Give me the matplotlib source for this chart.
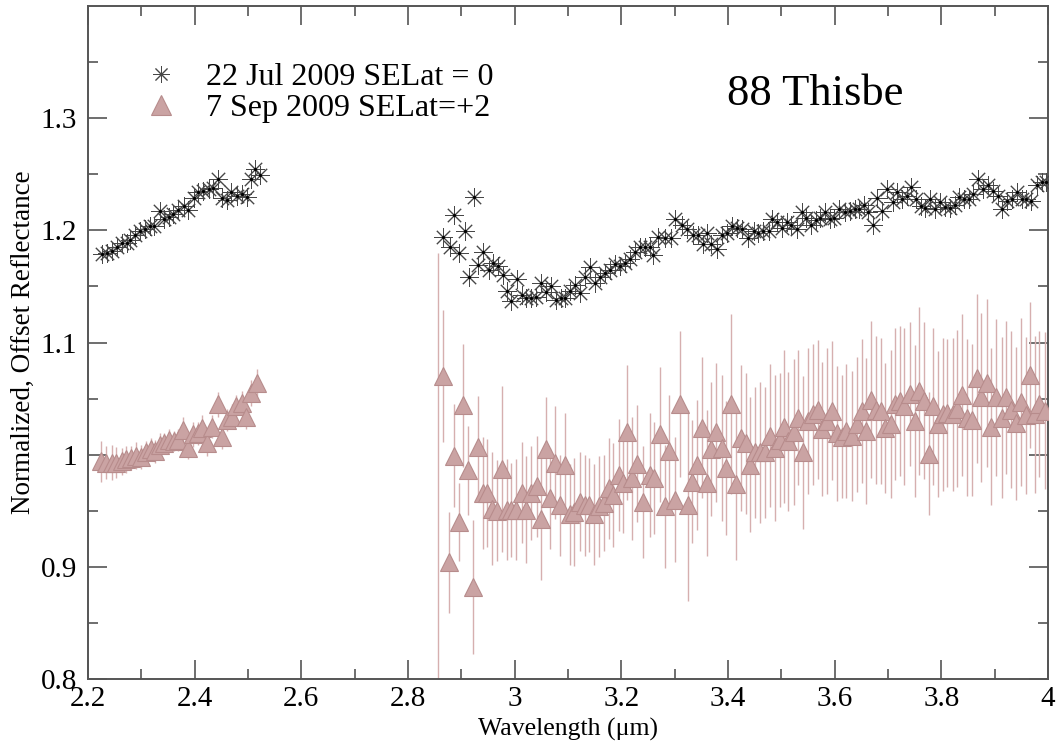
import numpy as np
import matplotlib
matplotlib.use("Agg")
import matplotlib.pyplot as plt

plt.rcParams['font.family'] = ['Liberation Serif', 'DejaVu Serif']

# Data --------------------------------------------------------------------------------------------

# 22 Jul 2009 (asterisks), short wavelength part
jul_x1 = [2.226, 2.235, 2.244, 2.254, 2.263, 2.273, 2.279, 2.288, 2.298, 2.307, 2.316, 2.324,
          2.334, 2.343, 2.351, 2.360, 2.369, 2.379, 2.388, 2.398, 2.407, 2.416, 2.426, 2.435,
          2.443, 2.452, 2.460, 2.469, 2.479, 2.488, 2.498, 2.505, 2.514, 2.523]
jul_y1 = [1.179, 1.180, 1.182, 1.185, 1.189, 1.189, 1.191, 1.196, 1.199, 1.201, 1.204, 1.204,
          1.217, 1.210, 1.212, 1.215, 1.218, 1.222, 1.218, 1.229, 1.234, 1.235, 1.237, 1.238,
          1.246, 1.229, 1.227, 1.234, 1.231, 1.232, 1.230, 1.246, 1.255, 1.249]

# 22 Jul 2009, long wavelength part
jul_x2 = [2.866, 2.878, 2.887, 2.896, 2.906, 2.915, 2.924, 2.932, 2.941, 2.951, 2.959, 2.968,
          2.978, 2.986, 2.994, 3.004, 3.013, 3.021, 3.031, 3.040, 3.049, 3.059, 3.068, 3.078,
          3.086, 3.094, 3.104, 3.113, 3.123, 3.132, 3.141, 3.151, 3.160, 3.169, 3.179, 3.188,
          3.198, 3.207, 3.216, 3.226, 3.235, 3.244, 3.254, 3.260, 3.269, 3.282, 3.293, 3.301,
          3.313, 3.323, 3.334, 3.343, 3.353, 3.361, 3.369, 3.379,
          3.388, 3.398, 3.407, 3.416, 3.426, 3.438, 3.448, 3.457, 3.466, 3.476, 3.482, 3.491,
          3.501, 3.510, 3.519, 3.529, 3.538, 3.546, 3.556, 3.565, 3.573, 3.582, 3.591, 3.599,
          3.609, 3.619, 3.629, 3.638, 3.646, 3.655, 3.663, 3.671, 3.679, 3.689, 3.699, 3.709,
          3.716, 3.726, 3.735, 3.743, 3.753, 3.761, 3.769, 3.779, 3.788, 3.798, 3.807, 3.816,
          3.826, 3.834, 3.843, 3.851, 3.859, 3.869, 3.879, 3.888, 3.896, 3.906, 3.913, 3.923,
          3.932, 3.941, 3.951, 3.959, 3.968, 3.979, 3.988, 3.996]
jul_y2 = [1.194, 1.185, 1.214, 1.180, 1.199, 1.158, 1.230, 1.169, 1.181, 1.165, 1.171, 1.168,
          1.160, 1.146, 1.137, 1.157, 1.142, 1.140, 1.140, 1.141, 1.153, 1.145, 1.150, 1.138,
          1.140, 1.140, 1.146, 1.151, 1.144, 1.158, 1.167, 1.153, 1.158, 1.162, 1.165, 1.170,
          1.168, 1.171, 1.174, 1.181, 1.185, 1.185, 1.185, 1.178, 1.194, 1.193, 1.193, 1.210,
          1.205, 1.201, 1.196, 1.196, 1.188, 1.198, 1.188, 1.183,
          1.196, 1.198, 1.204, 1.202, 1.201, 1.193, 1.199, 1.198, 1.199, 1.199, 1.210, 1.207,
          1.202, 1.207, 1.205, 1.201, 1.216, 1.211, 1.205, 1.209, 1.211, 1.216, 1.210, 1.211,
          1.219, 1.216, 1.217, 1.219, 1.219, 1.223, 1.216, 1.205, 1.229, 1.217, 1.237, 1.225,
          1.234, 1.228, 1.231, 1.239, 1.228, 1.222, 1.220, 1.228, 1.219, 1.225, 1.221, 1.220,
          1.223, 1.230, 1.228, 1.228, 1.232, 1.246, 1.237, 1.240, 1.235, 1.231, 1.219, 1.226,
          1.228, 1.234, 1.228, 1.228, 1.226, 1.240, 1.243, 1.243]

# 7 Sep 2009 (triangles with error bars), short wavelength part
sep_x1 = [2.225, 2.234, 2.244, 2.253, 2.263, 2.272, 2.280, 2.289, 2.299, 2.308, 2.318, 2.325,
          2.334, 2.343, 2.352, 2.361, 2.369, 2.378, 2.388, 2.397, 2.406, 2.414, 2.424, 2.433,
          2.443, 2.451, 2.461, 2.470, 2.478, 2.488, 2.497, 2.506, 2.516]
sep_y1 = [0.994, 0.993, 0.993, 0.993, 0.994, 0.996, 0.997, 0.999, 0.998, 1.002, 1.005, 1.003,
          1.009, 1.010, 1.013, 1.012, 1.013, 1.022, 1.006, 1.018, 1.019, 1.024, 1.010, 1.025,
          1.045, 1.016, 1.031, 1.034, 1.043, 1.046, 1.034, 1.055, 1.064]
sep_e1 = [0.018, 0.015, 0.016, 0.014, 0.012, 0.012, 0.011, 0.012, 0.011, 0.010, 0.010, 0.010,
          0.010, 0.009, 0.010, 0.009, 0.010, 0.012, 0.010, 0.011, 0.010, 0.011, 0.011, 0.010,
          0.011, 0.011, 0.010, 0.011, 0.010, 0.011, 0.011, 0.012, 0.012]

# 7 Sep 2009, long wavelength part
sep_x2 = [2.857, 2.866, 2.877, 2.886, 2.895, 2.904, 2.913, 2.922, 2.931, 2.940, 2.949, 2.958,
          2.967, 2.976, 2.985, 2.994, 3.003, 3.013, 3.022, 3.031, 3.041, 3.049, 3.058, 3.067,
          3.075, 3.085, 3.094, 3.103, 3.112, 3.122, 3.131, 3.140, 3.149, 3.158, 3.168, 3.177,
          3.185, 3.195, 3.203, 3.210, 3.220, 3.230, 3.240, 3.254, 3.262, 3.272, 3.281, 3.290,
          3.300, 3.310, 3.325, 3.333, 3.342, 3.352, 3.360, 3.369, 3.378, 3.388, 3.397, 3.406,
          3.415, 3.424, 3.433, 3.442, 3.450, 3.460, 3.469, 3.478, 3.488, 3.497, 3.505, 3.513,
          3.523, 3.532, 3.541, 3.550, 3.560, 3.569, 3.577, 3.586, 3.595, 3.605, 3.614, 3.622,
          3.632, 3.641, 3.651, 3.659, 3.668, 3.678, 3.687, 3.695, 3.705, 3.713, 3.722, 3.730,
          3.741, 3.750, 3.759, 3.768, 3.776, 3.785, 3.794, 3.804, 3.811, 3.821, 3.830, 3.839,
          3.848, 3.857, 3.866, 3.875, 3.885, 3.894, 3.903, 3.913, 3.922, 3.931, 3.940, 3.949,
          3.958, 3.967, 3.975, 3.984, 3.994]
sep_y2 = [0.780, 1.070, 0.904, 0.999, 0.940, 1.044, 0.986, 0.882, 1.007, 0.966, 0.966, 0.952,
          0.950, 0.987, 0.951, 0.951, 0.951, 0.966, 0.951, 0.966, 0.972, 0.943, 1.005, 0.961,
          0.993, 0.955, 0.991, 0.947, 0.949, 0.958, 0.955, 0.955, 0.947, 0.954, 0.957, 0.970,
          0.964, 0.982, 0.975, 1.020, 0.979, 0.992, 0.958, 0.982, 0.979, 1.018, 0.954, 1.003,
          0.960, 1.045, 0.955, 0.976, 0.991, 1.024, 0.975, 1.005, 1.020, 1.006, 0.988, 1.045,
          0.974, 1.015, 1.010, 0.991, 1.002, 1.002, 1.002, 1.017, 1.006, 1.013, 1.025, 1.012,
          1.020, 1.033, 1.002, 1.030, 1.036, 1.040, 1.023, 1.030, 1.039, 1.019, 1.016, 1.021,
          1.017, 1.027, 1.039, 1.021, 1.049, 1.040, 1.039, 1.024, 1.027, 1.045, 1.048, 1.043,
          1.054, 1.030, 1.057, 1.048, 1.001, 1.043, 1.027, 1.036, 1.037, 1.036, 1.041, 1.053,
          1.033, 1.031, 1.068, 1.051, 1.064, 1.025, 1.051, 1.033, 1.051, 1.040, 1.028, 1.047,
          1.035, 1.071, 1.036, 1.045, 1.039]
sep_e2 = [0.400, 0.059, 0.045, 0.046, 0.035, 0.055, 0.040, 0.060, 0.045, 0.050, 0.048, 0.050,
          0.045, 0.074, 0.045, 0.042, 0.045, 0.045, 0.048, 0.042, 0.045, 0.055, 0.046, 0.045,
          0.050, 0.045, 0.046, 0.045, 0.048, 0.044, 0.045, 0.042, 0.045, 0.045, 0.043, 0.045,
          0.046, 0.050, 0.045, 0.060, 0.055, 0.052, 0.050, 0.055, 0.050, 0.060, 0.055, 0.050,
          0.056, 0.065, 0.085, 0.055, 0.058, 0.063, 0.065, 0.060, 0.062, 0.065, 0.060, 0.080,
          0.068, 0.065, 0.063, 0.060, 0.058, 0.063, 0.058, 0.064, 0.065, 0.060, 0.068, 0.062,
          0.065, 0.060, 0.068, 0.065, 0.063, 0.062, 0.060, 0.065, 0.062, 0.060, 0.055, 0.060,
          0.058, 0.060, 0.064, 0.065, 0.070, 0.066, 0.065, 0.058, 0.066, 0.068, 0.067, 0.070,
          0.064, 0.068, 0.075, 0.070, 0.055, 0.070, 0.065, 0.068, 0.066, 0.068, 0.070, 0.072,
          0.070, 0.068, 0.075, 0.075, 0.075, 0.070, 0.070, 0.072, 0.068, 0.070, 0.068, 0.075,
          0.070, 0.065, 0.070, 0.065, 0.070]

x_ticks = [2.2, 2.4, 2.6, 2.8, 3.0, 3.2, 3.4, 3.6, 3.8, 4.0]
y_ticks = [0.8, 0.9, 1.0, 1.1, 1.2, 1.3]

# Style ------------------------------------------------------------------------------------------
tri_face = '#caa3a3'
tri_edge = '#b78c8c'
bar_color = '#d6afaf'
star_color = '#474747'
frame_color = '#555555'
star_marker = (8, 2, 0)

fig = plt.figure(figsize=(10.62, 7.48), dpi=100)
ax = fig.add_axes([0.0829, 0.0922, 0.9039, 0.8998])

# Error bars + triangles
for xs, ys, es in [(sep_x1, sep_y1, sep_e1), (sep_x2, sep_y2, sep_e2)]:
    ax.errorbar(xs, ys, yerr=es, fmt='none', ecolor=bar_color, elinewidth=1.0, capsize=0, zorder=2)
    ax.plot(xs, ys, linestyle='none', marker='^', ms=13.5, mfc=tri_face, mec=tri_edge, mew=0.8, zorder=3)

# Asterisks
for xs, ys in [(jul_x1, jul_y1), (jul_x2, jul_y2)]:
    ax.plot(xs, ys, linestyle='none', marker=star_marker, ms=13.5, mec=star_color, mew=0.7, zorder=4)
    ax.plot(xs, ys, linestyle='none', marker='.', ms=2.5, color='black', zorder=5)

# Legend
h1, = ax.plot([], [], linestyle='none', marker=star_marker, ms=12, mec=star_color, mew=0.7)
h2, = ax.plot([], [], linestyle='none', marker='^', ms=14, mfc=tri_face, mec=tri_edge, mew=0.8)
leg = ax.legend([h1, h2], ['22 Jul 2009 SELat = 0', '7 Sep 2009 SELat=+2'],
                loc='upper left', bbox_to_anchor=(0.046, 0.935), frameon=False,
                fontsize=23, handlelength=1.0, handletextpad=0.9, labelspacing=0.05,
                borderaxespad=0.0)

ax.text(0.758, 0.869, '88 Thisbe', transform=ax.transAxes, fontsize=32,
        ha='center', va='center')

ax.set_xlim(2.2, 4.0)
ax.set_ylim(0.8, 1.4)
ax.set_xticks(x_ticks)
ax.set_xticklabels(['%g' % v for v in x_ticks])
ax.set_yticks(y_ticks)
ax.set_yticklabels(['%g' % v for v in y_ticks])
ax.set_xticks(np.arange(2.3, 4.0, 0.2), minor=True)
ax.set_yticks([0.85, 0.95, 1.05, 1.15, 1.25, 1.35], minor=True)

ax.tick_params(which='both', direction='in', top=True, right=True, color=frame_color,
               labelsize=21, width=1.2)
ax.tick_params(which='major', length=14)
ax.tick_params(which='minor', length=7)
ax.tick_params(axis='x', which='major', pad=5)
ax.tick_params(axis='y', which='major', pad=8)
for s in ax.spines.values():
    s.set_color(frame_color)
    s.set_linewidth(1.4)

ax.set_xlabel('Wavelength (μm)', fontsize=18.5, labelpad=4)
ax.set_ylabel('Normalized, Offset Reflectance', fontsize=19.5, labelpad=3)

fig.savefig('out.png', dpi=100)
